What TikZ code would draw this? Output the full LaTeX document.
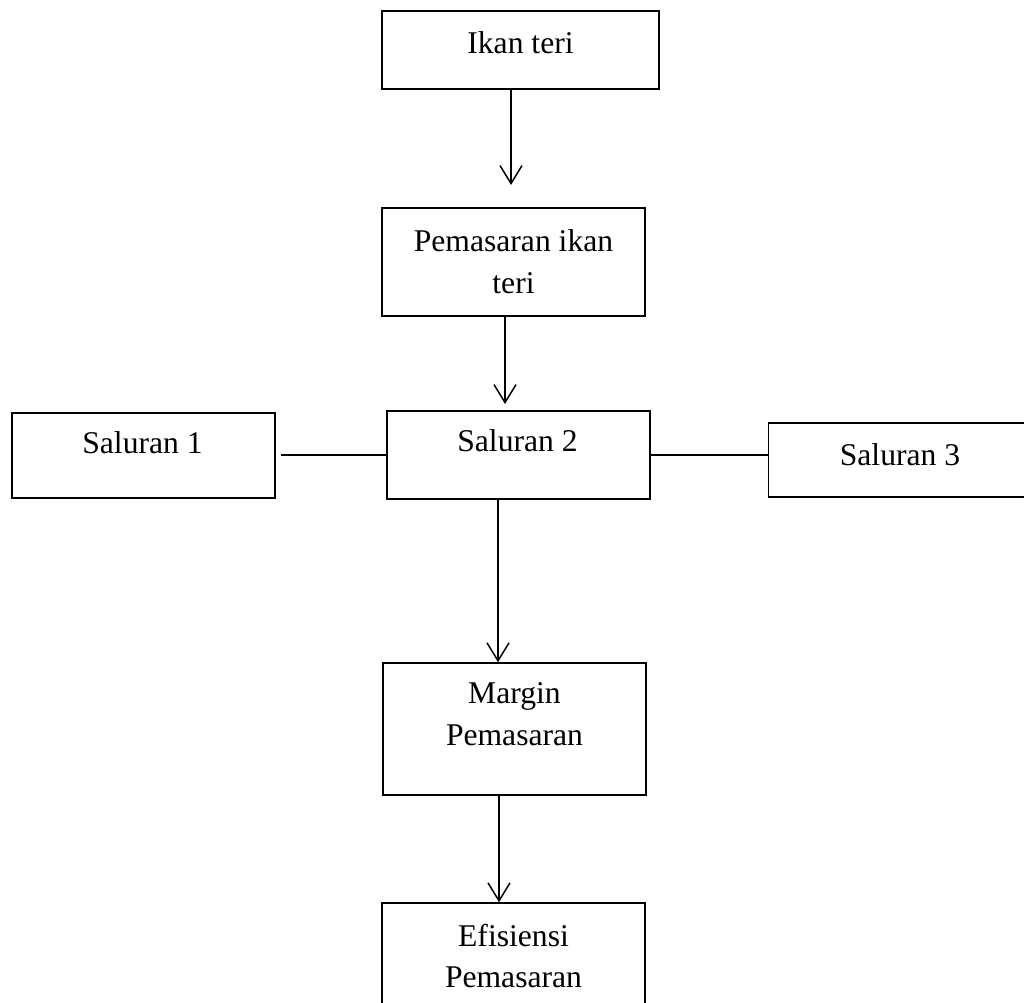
\documentclass[tikz,border=0pt]{standalone}
\usepackage{fontspec}
\setmainfont{Liberation Serif}
\usetikzlibrary{arrows.meta}
\begin{document}
\begin{tikzpicture}
[x=0.02cm, y=-0.02cm, line width=0.85pt,
 box/.style={draw, inner sep=0pt, minimum width=5.26cm},
 txt/.style={align=center, inner sep=0pt, font=\fontsize{18}{23.9}\selectfont},
 arr/.style={-{Straight Barb[length=0.36cm, width=0.44cm]}}]
\clip (0,0) rectangle (1024,1002);
\node [box, minimum width=5.54cm, minimum height=1.56cm] (ikan) at (520.5,50) {};
\node [box, minimum height=2.16cm] (pem) at (513.5,262) {};
\node [box, minimum height=1.70cm] (sal1) at (143.5,455.5) {};
\node [box, minimum height=1.76cm] (sal2) at (518.5,455) {};
\node [box, minimum height=1.48cm] (sal3) at (900,460) {};
\node [box, minimum height=2.64cm] (mar) at (514.5,729) {};
\node [box, minimum height=2.64cm] (efi) at (513.5,969) {};
\node [txt] (ikan-t) at ([shift={(0,-7)}]ikan.center) {Ikan teri};
\node [txt] (pem-t) at (pem.center) {Pemasaran ikan\\teri};
\node [txt] (sal1-t) at ([shift={(-1,-13)}]sal1.center) {Saluran 1};
\node [txt] (sal2-t) at ([shift={(-1,-14)}]sal2.center) {Saluran 2};
\node [txt] (sal3-t) at ([shift={(0,-5)}]sal3.center) {Saluran 3};
\node [txt] (mar-t) at ([shift={(0,-15)}]mar.center) {Margin\\Pemasaran};
\node [txt] (efi-t) at ([shift={(0,-13)}]efi.center) {Efisiensi\\Pemasaran};
\coordinate (a1) at (511,185);
\coordinate (a2) at (505,404);
\coordinate (a3) at (498,0);
\coordinate (a4) at (499,0);
\coordinate (l1) at (281,455);
\draw [arr] (ikan.south -| a1) -- (a1);
\draw [arr] (pem.south -| a2) -- (a2);
\draw [arr] (sal2.south -| a3) -- (mar.north -| a3);
\draw [arr] (mar.south -| a4) -- (efi.north -| a4);
\draw (l1) -- (sal2.west);
\draw (sal2.east) -- (sal2.east -| sal3.west);
\end{tikzpicture}
\end{document}
